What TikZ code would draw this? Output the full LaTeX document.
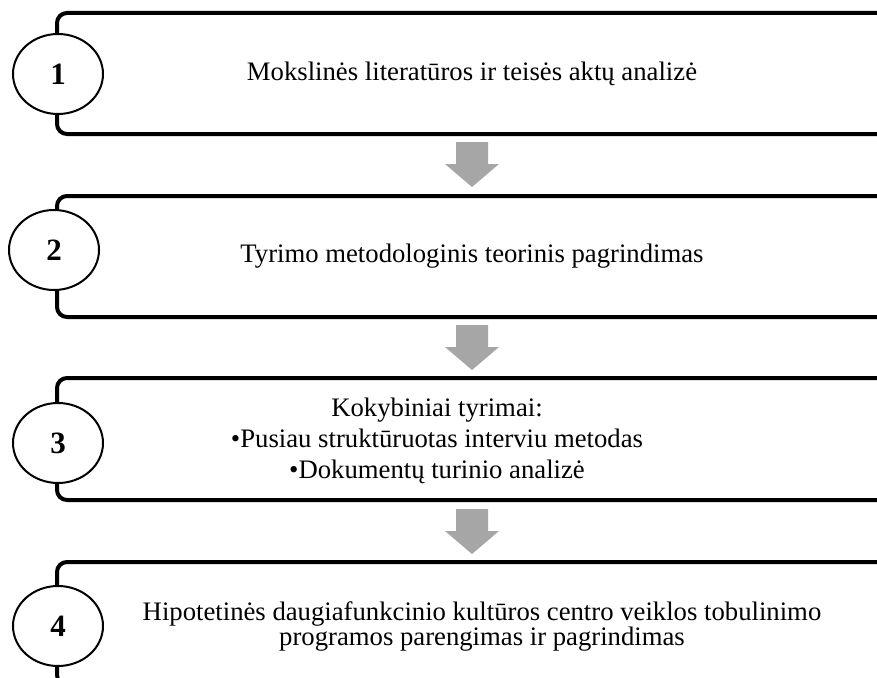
\documentclass[tikz,border=0pt]{standalone}
\usepackage{fontspec}
\setmainfont{Liberation Serif}
\usetikzlibrary{shapes.geometric}

\definecolor{arrowgray}{RGB}{166,166,166}

\tikzset{
  frame/.style={line width=4pt, rounded corners=10pt},
  stepnum/.style={ellipse, draw, line width=2pt, fill=white, minimum width=90pt, minimum height=80pt, inner sep=0pt, font=\fontsize{31}{31}\selectfont\bfseries},
  steptext/.style={align=center, font=\fontsize{26.7}{31}\selectfont}
}

\begin{document}
\begin{tikzpicture}[x=1pt,y=-1pt]
  \useasboundingbox (0,0) rectangle (877,677);
  \clip (0,0) rectangle (877,677);

  % Define the open frames and the numbered ellipses
  \foreach \n/\t/\b/\cx/\cy in {1/13/134/58/74, 2/196/317/54/250, 3/378/500/58/443, 4/562/685/58/626}
  {
    \draw[frame] (877,\t) -- (57,\t) -- (57,\b) -- (877,\b);
    \node[stepnum] (N\n) at (\cx,\cy) {\n};
  }

  % Define the texts of the steps
  \node[steptext] (T1) at (472,74) {Mokslinės literatūros ir teisės aktų analizė};
  \node[steptext] (T2) at (472,256) {Tyrimo metodologinis teorinis pagrindimas};
  \node[steptext] (T3) at (437,441) {Kokybiniai tyrimai:\\ •Pusiau struktūruotas interviu metodas\\ •Dokumentų turinio analizė};
  \node[steptext, font=\fontsize{26.7}{25}\selectfont] (T4) at (482,626) {Hipotetinės daugiafunkcinio kultūros centro veiklos tobulinimo\\ programos parengimas ir pagrindimas};

  % Draw the gray arrows between the steps
  \foreach \y in {142,325,509}
  \fill[arrowgray] (456,\y) -- (488,\y) -- (488,\y+22) -- (499,\y+22) -- (472,\y+45) -- (445,\y+22) -- (456,\y+22) -- cycle;
\end{tikzpicture}
\end{document}
